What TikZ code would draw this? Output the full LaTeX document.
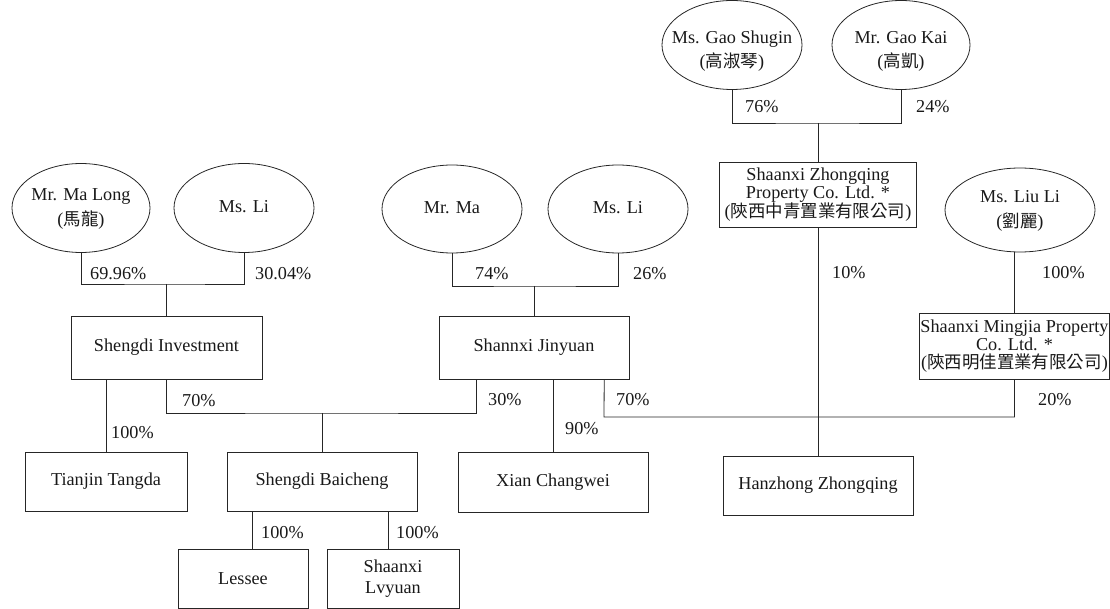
\documentclass[tikz,border=0pt]{standalone}
\usepackage{fontspec}
\setmainfont{Liberation Serif}
\newfontfamily\cjk[Scale=0.96]{Noto Sans CJK TC}
\usetikzlibrary{shapes.geometric, calc, positioning}
\tikzset{
	owner/.style ={ellipse, draw=black!85, line width=0.8pt, minimum width=140pt, minimum height=89pt, inner sep=0pt},
	entity/.style={rectangle, draw=black!85, line width=0.8pt, minimum width=190pt, minimum height=60pt, inner sep=1pt, align=center},
	pct/.style   ={anchor=west, inner sep=0pt},
	link/.style  ={draw=black!85, line width=0.8pt},
}
% owner names: zero-width box so the ellipse keeps its given size
\newcommand{\nm}[1]{\makebox[0pt]{\renewcommand{\arraystretch}{1.35}\begin{tabular}{@{}c@{}}#1\end{tabular}}}

\begin{document}
\begin{tikzpicture}[x=1pt, y=-1pt, font=\fontsize{18.2pt}{18pt}\selectfont, text=black!90]
	\useasboundingbox (0,0) rectangle (1110,609);
	% shareholders
	\node[owner] (gaoshu) at (732,45) {\raisebox{-10pt}[0pt][0pt]{\nm{Ms. Gao Shugin\\({\cjk 高淑琴})}}};
	\node[owner, minimum width=138pt] (gaokai) at (901,45) {\raisebox{-10pt}[0pt][0pt]{\nm{Mr. Gao Kai\\({\cjk 高凱})}}};
	\node[owner, minimum width=138pt] (malong) at (81,208) {\nm{Mr. Ma Long\\({\cjk 馬龍})}};
	\node[owner] (lisd) at (244,208) {\nm{Ms. Li}};
	\node[owner, minimum height=88pt] (mama) at (452,209) {\nm{Mr. Ma}};
	\node[owner, minimum height=88pt] (lijy) at (618,209) {\nm{Ms. Li}};
	\node[owner, minimum width=150pt, minimum height=84pt] (liuli) at (1020,210) {\nm{Ms. Liu Li\\({\cjk 劉麗})}};
	% companies
	\node[entity, minimum width=197pt, minimum height=65pt] (zq) at (818,194.5) {Shaanxi Zhongqing\\Property Co. Ltd. *\\({\cjk 陝西中青置業有限公司})};
	\node[entity, minimum width=187pt, minimum height=66pt] (mj) at (1014.5,346) {Shaanxi Mingjia Property\\Co. Ltd. *\\({\cjk 陝西明佳置業有限公司})};
	\node[entity, minimum width=191pt, minimum height=63pt] (sdinv) at (166.5,347.5) {Shengdi Investment};
	\node[entity, minimum height=63pt] (jy) at (534,347.5) {Shannxi Jinyuan};
	\node[entity, minimum width=162pt, minimum height=59pt] (tj) at (106,481.5) {Tianjin Tangda};
	\node[entity, minimum height=59pt] (bc) at (322,481.5) {Shengdi Baicheng};
	\node[entity] (xian) at (553,482) {Xian Changwei};
	\node[entity, minimum height=59pt] (hz) at (818,485.5) {Hanzhong Zhongqing};
	\node[entity, minimum width=130pt, minimum height=59pt] (lessee) at (243,578.5) {Lessee};
	\node[entity, minimum width=132pt, minimum height=59pt] (lvy) at (393,578.5) {Shaanxi\\[3pt]Lvyuan};
	% junctions
	\coordinate (jgao) at (818,123);
	\coordinate (jsd) at (166.5,284);
	\coordinate (jjy) at (534,286);
	\coordinate (jbc) at (322,413);
	\coordinate (jmj) at (604,417);
	\coordinate (jyl) at ($(jy.south west)!0.2!(jy.south east)$);
	\coordinate (jyr) at ($(jy.south west)!0.868!(jy.south east)$);
	\coordinate (bcl) at ($(bc.south west)!0.137!(bc.south east)$);
	\coordinate (bcr) at ($(bc.south west)!0.847!(bc.south east)$);
	% ownership lines
	\draw[link] (gaoshu.south) |- (jgao) -| (gaokai.south);
	\draw[link] (jgao) -- (zq.north);
	\draw[link] (malong.south) |- (jsd) -| (lisd.south);
	\draw[link] (jsd) -- (sdinv.north);
	\draw[link] (mama.south) |- (jjy) -| (lijy.south);
	\draw[link] (jjy) -- (jy.north);
	\draw[link] (liuli.south -| mj.north) -- (mj.north);
	\draw[link] (zq.south) -- (hz.north);
	\draw[link] (mj.south) |- (jmj) -- (jyr);
	\draw[link] (tj.north) -- (tj.north |- sdinv.south);
	\draw[link] (sdinv.south) |- (jbc) -| (jyl);
	\draw[link] (jbc) -- (bc.north);
	\draw[link] (xian.north) -- (xian.north |- jy.south);
	\draw[link] (bcl) -- (bcl |- lessee.north);
	\draw[link] (bcr) -- (bcr |- lvy.north);
	% percentages
	\foreach \px/\py/\pv [count=\i] in {90/274/69.96, 255/274/30.04, 475/274/74, 633/274/26,
			745/107/76, 916/107/24, 832/273/10, 1042/273/100, 1038/400/20, 616/400/70,
			488/400/30, 182/401/70, 111/433/100, 565/429/90, 261/533/100, 396/533/100}
		\node[pct] (pct\i) at (\px,\py) {\pv\%};
\end{tikzpicture}
\end{document}
